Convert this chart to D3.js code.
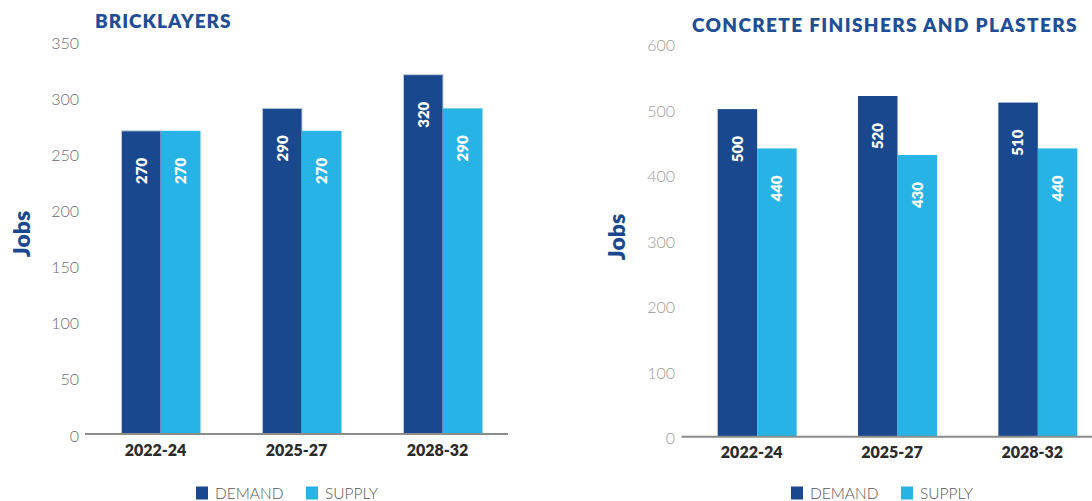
<!DOCTYPE html>
<html>
<head>
<meta charset="utf-8">
<script src="https://cdn.jsdelivr.net/npm/d3@7"></script>
<style>
  html, body { margin: 0; padding: 0; background: #fff; }
  svg { display: block; font-family: Lato, "Open Sans", sans-serif; }
</style>
</head>
<body>
<svg id="chart" width="1092" height="501"></svg>
<script>
// Occupational outlook: demand vs. supply of jobs by period
const categories = ["2022-24", "2025-27", "2028-32"];
const seriesNames = ["DEMAND", "SUPPLY"];
const seriesColors = ["#19488f", "#28b3e7"];

const bricklayersDemand = [270, 290, 320];
const bricklayersSupply = [270, 270, 290];
const bricklayersTicks = [0, 50, 100, 150, 200, 250, 300, 350];

const concreteDemand = [500, 520, 510];
const concreteSupply = [440, 430, 440];
const concreteTicks = [0, 100, 200, 300, 400, 500, 600];

const svg = d3.select("#chart");

function drawPanel(opts) {
  const g = svg.append("g");

  const x = d3.scaleBand().domain(categories).range(opts.xRange);
  const y = d3.scaleLinear().domain([0, opts.max]).range([opts.baseY, opts.topY]);
  const inner = d3.scaleBand().domain(seriesNames).range([-34, 45]);

  // title
  g.append("text")
    .attr("x", opts.titleX).attr("y", opts.titleY)
    .attr("fill", "#1f4e96")
    .attr("font-size", 19).attr("font-weight", 800)
    .attr("letter-spacing", opts.titleSpacing)
    .text(opts.title);

  // y axis title
  g.append("text")
    .attr("transform", `translate(${opts.jobsX},${opts.jobsY}) rotate(-90)`)
    .attr("text-anchor", "middle")
    .attr("fill", "#19488f")
    .attr("font-size", 23).attr("font-weight", 800)
    .text("Jobs");

  // y tick labels
  const yAxis = g.append("g")
    .attr("transform", `translate(${opts.tickX},2)`)
    .call(d3.axisLeft(y).tickValues(opts.ticks).tickSize(0).tickPadding(0));
  yAxis.select(".domain").remove();
  yAxis.selectAll("text")
    .attr("fill", opts.tickColor)
    .attr("font-size", 16).attr("font-weight", 300)
    .attr("font-family", "Lato, sans-serif");

  // bars
  const rows = categories.map((c, i) => ({
    cat: c,
    vals: [
      { key: seriesNames[0], v: opts.demand[i], color: seriesColors[0] },
      { key: seriesNames[1], v: opts.supply[i], color: seriesColors[1] }
    ]
  }));

  const groups = g.selectAll(".grp").data(rows).join("g")
    .attr("transform", d => `translate(${x(d.cat) + x.bandwidth() / 2},0)`);

  groups.selectAll("rect").data(d => d.vals).join("rect")
    .attr("x", d => inner(d.key))
    .attr("width", inner.bandwidth())
    .attr("y", d => y(d.v))
    .attr("height", d => y(0) - y(d.v))
    .attr("fill", d => d.color)
    .attr("stroke", d => (opts.outline && d.key === "DEMAND") ? "#c3cbdb" : "none")
    .attr("stroke-width", 1);

  groups.selectAll("text.val").data(d => d.vals).join("text")
    .attr("class", "val")
    .attr("transform", d => `translate(${inner(d.key) + inner.bandwidth() / 2},${y(d.v) + 27}) rotate(-90)`)
    .attr("text-anchor", "end")
    .attr("dy", "0.36em")
    .attr("fill", "#ffffff")
    .attr("font-size", 15).attr("font-weight", 800)
    .text(d => d.v);

  // baseline
  g.append("line")
    .attr("x1", opts.xRange[0]).attr("x2", opts.xRange[1])
    .attr("y1", y(0)).attr("y2", y(0))
    .attr("stroke", "#8c8c8c").attr("stroke-width", 2);

  // category labels
  g.selectAll(".cat").data(categories).join("text")
    .attr("x", d => x(d) + x.bandwidth() / 2)
    .attr("y", opts.catY)
    .attr("text-anchor", "middle")
    .attr("fill", "#2b2b2b")
    .attr("font-size", 16).attr("font-weight", 800)
    .text(d => d);

  // legend
  const lg = g.append("g").attr("transform", `translate(${opts.legendX},${opts.legendY})`);
  const offsets = [0, 110];
  seriesNames.forEach((name, i) => {
    lg.append("rect")
      .attr("x", offsets[i]).attr("y", -12)
      .attr("width", 12).attr("height", 13)
      .attr("fill", seriesColors[i]);
    lg.append("text")
      .attr("x", offsets[i] + 19).attr("y", 0)
      .attr("fill", "#555")
      .attr("font-size", 15.5).attr("font-weight", 300)
      .text(name);
  });
}

drawPanel({
  title: "BRICKLAYERS", titleX: 95, titleY: 28, titleSpacing: 1.0,
  jobsX: 30, jobsY: 234,
  demand: bricklayersDemand, supply: bricklayersSupply,
  ticks: bricklayersTicks, max: 350,
  baseY: 434, topY: 41,
  xRange: [85, 508], tickX: 79, tickColor: "#6b6b6b",
  catY: 456, legendX: 196, legendY: 498.5, outline: true
});

drawPanel({
  title: "CONCRETE FINISHERS AND PLASTERS", titleX: 692, titleY: 32, titleSpacing: 1.35,
  jobsX: 625, jobsY: 237,
  demand: concreteDemand, supply: concreteSupply,
  ticks: concreteTicks, max: 600,
  baseY: 436.7, topY: 43.6,
  xRange: [681.5, 1102.5], tickX: 675, tickColor: "#9a9a9a",
  catY: 458, legendX: 791, legendY: 498.5, outline: false
});
</script>
</body>
</html>
